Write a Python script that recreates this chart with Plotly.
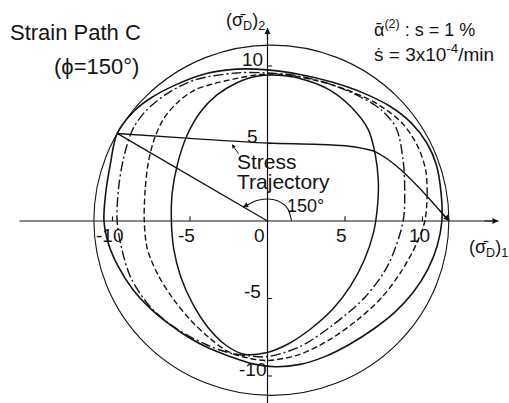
import plotly.graph_objects as go

# ---- yield surfaces in the (sigma_D)1 - (sigma_D)2 plane, closed loops ----
# largest solid surface (starts and ends at the loading point on the circle)
s1_x = [-9.7, -10.15, -10.45, -10.55, -10.25, -9.65, -8.7, -7.6, -6.4, -5.1, -3.8, -2.4, -1.0, 0.5,
        2.1, 3.7, 5.3, 6.8, 8.2, 9.4, 10.35, 10.95, 11.25, 11.2, 10.9, 10.3, 9.3, 7.9, 6.2, 4.2, 2.1,
        0.0, -2.0, -4.0, -6.0, -7.5, -8.6, -9.7]
s1_y = [5.65, 3.6, 1.7, 0.0, -1.5, -2.9, -4.4, -5.6, -6.6, -7.5, -8.2, -8.75, -9.2, -9.4,
        -9.25, -8.75, -7.95, -7.0, -5.9, -4.6, -3.1, -1.6, 0.0, 1.8, 3.6, 5.0, 6.3, 7.4, 8.25, 8.95, 9.45,
        9.75, 9.8, 9.5, 8.75, 7.95, 7.1, 5.65]

# dash-dot surface
dd_x = [8.75, 8.85, 8.75, 8.3, 7.3, 6.0, 4.0, 2.0, 0.0, -2.0, -4.7, -6.5, -7.9, -8.7, -9.25, -9.6, -9.7,
        -9.4, -8.8, -7.6, -6.5, -5.3, -3.9, -2.5, -1.2, 0.0, 2.1, 4.1, 6.3, 7.8, 8.75]
dd_y = [0.0, 2.0, 3.9, 6.0, 7.2, 8.0, 8.85, 9.35, 9.55, 9.55, 9.1, 8.2, 7.05, 5.9, 4.2, 2.2, 0.0,
        -1.8, -3.7, -5.5, -6.5, -7.3, -8.0, -8.5, -8.7, -8.75, -8.1, -6.8, -4.9, -2.8, 0.0]

# dashed surface
ds_x = [10.15, 10.3, 10.2, 9.7, 8.7, 7.0, 5.0, 3.0, 1.0, -0.5, -2.2, -3.5, -4.7, -5.8, -6.7, -7.3, -7.7,
        -7.9, -7.95, -7.75, -7.05, -6.1, -5.0, -3.8, -2.5, -1.2, 0.0, 2.1, 4.1, 5.9, 7.4, 8.6, 9.6, 10.15]
ds_y = [0.0, 1.8, 3.3, 4.8, 6.3, 7.6, 8.5, 9.1, 9.45, 9.45, 9.15, 8.85, 8.45, 7.65, 6.6, 5.3, 3.7,
        1.9, 0.0, -1.8, -3.5, -5.0, -6.35, -7.5, -8.45, -8.85, -9.0, -8.6, -7.6, -6.3, -4.9, -3.3, -1.5, 0.0]

# smallest solid surface
s2_x = [7.1, 7.15, 6.95, 6.5, 5.4, 4.1, 2.6, 1.0, -0.6, -2.0, -3.3, -4.35, -5.2, -5.8, -6.15, -6.2,
        -6.05, -5.6, -4.85, -3.85, -2.7, -1.5, -0.1, 1.3, 2.8, 4.2, 5.35, 6.25, 6.85, 7.1]
s2_y = [1.0, 2.6, 4.3, 5.9, 7.35, 8.4, 9.05, 9.38, 9.35, 8.9, 8.1, 7.0, 5.5, 3.7, 1.8, 0.0,
        -1.8, -3.6, -5.3, -6.85, -8.0, -8.6, -8.5, -7.95, -6.95, -5.7, -4.2, -2.5, -0.7, 1.0]

# stress trajectory: radial loading at 150 deg, then the path to the (sigma_D)1 axis
radial_x = [0.0, -9.7]
radial_y = [0.0, 5.65]
traj_x = [-9.7, -5.0, 0.0, 3.0, 5.0, 6.3, 7.0, 7.8, 8.6, 10.2, 11.7]
traj_y = [5.65, 5.33, 5.03, 4.95, 4.85, 4.65, 4.45, 3.95, 3.3, 1.7, 0.0]

# arc marking the 150 deg loading direction
arc_x = [1.55, 1.3, 0.65, 0.0, -0.7, -1.2, -1.55]
arc_y = [0.0, 0.8, 1.3, 1.42, 1.32, 1.08, 0.88]

# circle of the initial surface (extent in data units)
circle_x = [-11.2, 11.7]
circle_y = [-11.25, 11.35]

# axis ticks
tick_vals = [-10, -5, 5, 10]
x_tick_labels = ["-10", "-5", "5", "10"]
y_tick_labels = ["-10", "-5", "5", "10"]

INK = "#141414"
FONT = "Liberation Sans, Arial, sans-serif"

fig = go.Figure()


def curve(x, y, dash="solid", width=1.5, shape="spline", smoothing=0.9):
    fig.add_trace(go.Scatter(x=x, y=y, mode="lines",
                             line=dict(color=INK, width=width, dash=dash, shape=shape,
                                       smoothing=smoothing),
                             hoverinfo="skip", showlegend=False))


curve(s1_x, s1_y, width=1.6)
curve(dd_x, dd_y, dash="10px,3px,2px,3px", width=1.4)
curve(ds_x, ds_y, dash="6px,3px", width=1.4)
curve(s2_x, s2_y, width=1.5)
curve(radial_x, radial_y, width=1.4, shape="linear")
curve(traj_x, traj_y, width=1.4)
curve(arc_x, arc_y, width=1.1)

shapes = []
# outer circle
shapes.append(dict(type="circle", xref="x", yref="y", x0=circle_x[0], x1=circle_x[1],
                   y0=circle_y[0], y1=circle_y[1], line=dict(color=INK, width=1.1)))
# axes through the origin
shapes.append(dict(type="line", xref="x", yref="y", x0=-16.0, x1=14.9, y0=0, y1=0,
                   line=dict(color=INK, width=1.2)))
shapes.append(dict(type="line", xref="x", yref="y", x0=0, x1=0, y0=-12.5, y1=12.45,
                   line=dict(color=INK, width=1.2)))
# tick marks
for v in tick_vals:
    shapes.append(dict(type="line", xref="x", yref="y", x0=v, x1=v, y0=0, y1=0.3,
                       line=dict(color=INK, width=1.1)))
    shapes.append(dict(type="line", xref="x", yref="y", x0=0, x1=0.3, y0=v, y1=v,
                       line=dict(color=INK, width=1.1)))

ann = []


def text(x, y, s, size=19, xanchor="center"):
    ann.append(dict(x=x, y=y, xref="x", yref="y", text=s, showarrow=False,
                    xanchor=xanchor, yanchor="middle", font=dict(family=FONT, size=size, color=INK)))


def arrow(x, y, ax, ay, head=2, size=1.0, width=1.2):
    ann.append(dict(x=x, y=y, ax=ax, ay=ay, xref="x", yref="y", axref="x", ayref="y", text="",
                    showarrow=True, arrowhead=head, arrowsize=size, arrowwidth=width,
                    arrowcolor=INK, standoff=0, font=dict(family=FONT, size=12)))


# axis arrows
arrow(14.9, 0, 13.9, 0)
arrow(0, 12.45, 0, 11.6)
# end of the stress trajectory
arrow(11.75, 0.0, 11.0, 0.8)
# end of the 150 deg arc
arrow(-1.6, 0.9, -1.2, 1.08, size=0.9)
# leader from the label to the trajectory
arrow(-2.3, 4.95, -1.8, 4.25, head=2, size=0.8, width=1.0)

# tick labels
for v, s in zip(tick_vals, x_tick_labels):
    text(v - 0.2, -0.95, s, size=19)
text(-0.5, -0.95, "0", size=19)
for v, s in zip(tick_vals, y_tick_labels):
    text(-0.95, v + 0.45, s, size=19)

# axis titles
text(-1.45, 12.85, "(σ̄<sub>D</sub>)<sub>2</sub>", size=18)
text(12.85, -1.75, "(σ̄<sub>D</sub>)<sub>1</sub>", size=18, xanchor="left")

# figure annotations
text(-16.75, 12.15, "Strain Path C", size=22, xanchor="left")
text(-13.9, 9.95, "(ϕ=150°)", size=22, xanchor="left")
text(6.75, 12.45, "ᾱ<sup>(2)</sup> : s = 1 %", size=18, xanchor="left")
text(6.75, 10.85, "ṡ = 3x10<sup>-4</sup>/min", size=19, xanchor="left")
text(-2.1, 3.85, "Stress", size=21, xanchor="left")
text(-2.1, 2.55, "Trajectory", size=21, xanchor="left")
text(2.45, 0.95, "150°", size=18)

W, H = 509, 403
PX = 15.5          # pixels per stress unit
ORIGIN = (267.5, 221.0)

fig.update_layout(
    width=W, height=H,
    margin=dict(l=0, r=0, t=0, b=0),
    paper_bgcolor="white", plot_bgcolor="white",
    xaxis=dict(range=[-ORIGIN[0] / PX, (W - ORIGIN[0]) / PX], visible=False, fixedrange=True),
    yaxis=dict(range=[-(H - ORIGIN[1]) / PX, ORIGIN[1] / PX], visible=False, fixedrange=True),
    shapes=shapes, annotations=ann, showlegend=False,
)

fig.write_html("out.html")
